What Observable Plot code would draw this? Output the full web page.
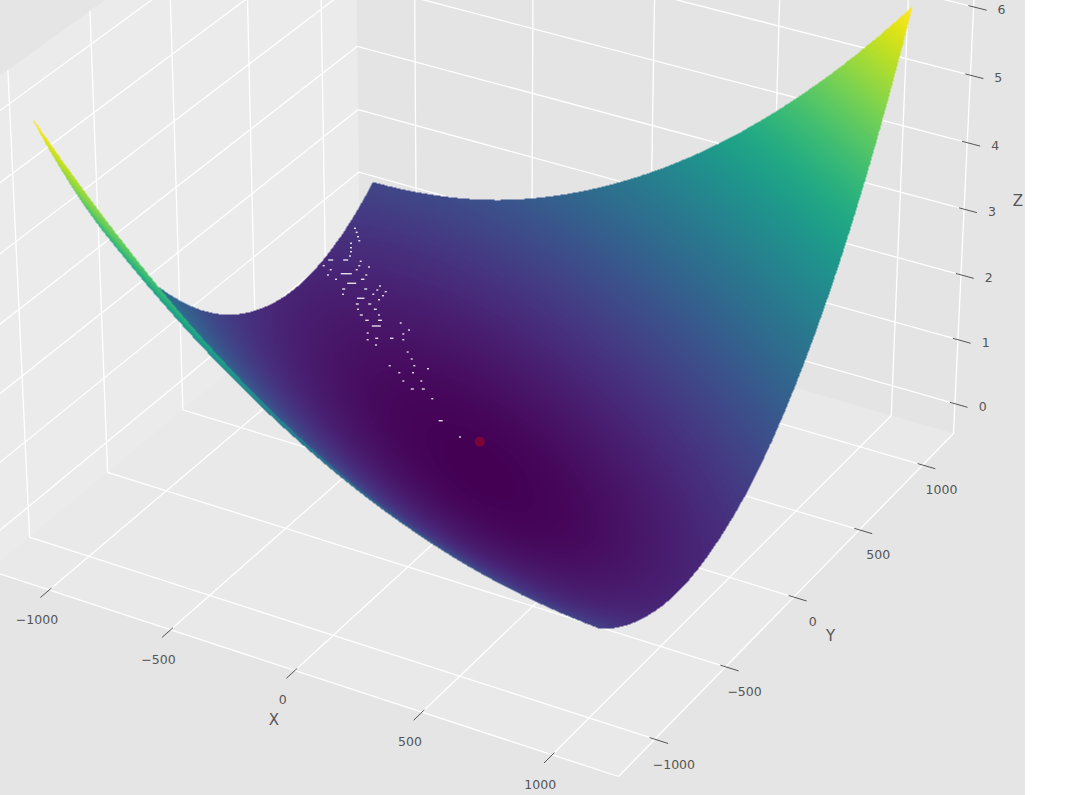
<!DOCTYPE html>
<html>
<head>
<meta charset="utf-8">
<script src="https://cdn.jsdelivr.net/npm/d3@7"></script>
<script src="https://cdn.jsdelivr.net/npm/@observablehq/plot@0.6"></script>
<style>
html,body{margin:0;padding:0;background:#fff;}
svg{display:block;}
</style>
</head>
<body>
<div id="chart"></div>
<script>
const xTicks = [-1000, -500, 0, 500, 1000];
const yTicks = [-1000, -500, 0, 500, 1000];
const zTicks = [0, 1, 2, 3, 4, 5, 6];
const xTickLabels = ["−1000", "−500", "0", "500", "1000"];
const yTickLabels = ["−1000", "−500", "0", "500", "1000"];
// surface heights at these grid nodes
const nodeX = [-1090, -818, -545, -273, 0, 273, 545, 818, 1090];
const nodeY = [-1090, -818, -545, -273, 0, 273, 545, 818, 1090];
const heights = [
  [6.07, 4.94, 3.95, 3.12, 2.44, 1.91, 1.53, 1.29, 1.17],
  [4.40, 3.41, 2.58, 1.90, 1.37, 0.99, 0.77, 0.67, 0.73],
  [3.03, 2.20, 1.52, 0.99, 0.61, 0.38, 0.31, 0.38, 0.59],
  [1.97, 1.29, 0.76, 0.38, 0.15, 0.08, 0.15, 0.38, 0.76],
  [1.21, 0.68, 0.30, 0.08, 0.00, 0.08, 0.30, 0.68, 1.21],
  [0.76, 0.38, 0.15, 0.08, 0.15, 0.38, 0.76, 1.29, 1.97],
  [0.61, 0.38, 0.31, 0.38, 0.61, 0.99, 1.52, 2.20, 3.03],
  [0.79, 0.70, 0.78, 0.99, 1.37, 1.90, 2.58, 3.41, 4.40],
  [1.28, 1.35, 1.56, 1.93, 2.45, 3.12, 3.95, 4.94, 6.10]
];
const marker = {x: 0, y: 0, z: 0.45};
// small gaps in the surface, read in picture pixels: [across, down, length]
const gaps = [[355,228.3,2],[356.7,232.3,2],[358,236.7,2],[359.3,240.7,2],[351,243.3,2],[351,247.7,2],[351,251.7,2],[350,256,2],[330.7,260,5],[345.7,260,5],[360.7,261.3,2],[359.3,265.7,2],[369,267,2],[323.7,265.7,2],[330.7,269.7,2],[356.7,269.7,2],[328,275,2],[346.3,273.7,11],[366.3,275,2],[336,279.3,2],[362.7,279.3,3.5],[351.7,283.3,9],[380,286,2],[343.7,289,3],[365.7,289,3],[377.3,290,2],[385.7,291.7,2],[373.3,294.3,2],[383,295.7,2],[343,294.3,2],[360.7,298.3,7.5],[379,299.7,2],[357.3,304,3],[369.7,304,3],[375.3,309.3,3],[358,309.3,2],[361.3,315,3],[379,315,2],[367,320.3,3.5],[380,320.3,4],[400.7,323,2],[376.3,326,9],[409,330,2],[367.7,333,2],[403.3,334,2],[376.7,338.3,3],[391.7,338.3,3.5],[367.7,339.7,2],[403.3,339.7,2],[376,345,2],[407.7,352,2],[411.7,359,2],[414.3,365.7,2],[389.7,365.7,2],[428,368.7,2],[399.3,372.7,2],[413,372.7,2],[403.3,381,2],[421.3,381,2],[412.3,389,3],[423.3,389,3],[432.3,398.7,2],[440.7,420.7,4],[460,437,2]];

const limit = 1250, floorZ = -0.47, topZ = 6.48;

// camera: world (x, y, z) to picture position
function project(x, y, z) {
  const u = (x + limit) / (2 * limit), v = (y + limit) / (2 * limit), h = z - floorZ;
  const w = 1 - 0.05636 * u + 0.09163 * v - 0.0066 * h;
  return [(594.17 * u + 403.44 * v - 11 - 3.2 * h) / w,
          (162.27 * u - 283.99 * v + 570 - 68.3 * h) / w];
}
const pt = (x, y, z) => { const [px, py] = project(x, y, z); return {px, py}; };
const seg = (a, b) => { const p = project(...a), q = project(...b); return {x1: p[0], y1: p[1], x2: q[0], y2: q[1]}; };

// surface shading: smooth pass over the node table, back to front
const N = 1200;
function smooth(values) {
  const n = values.length;
  const ext = [3*values[0]-3*values[1]+values[2], ...values, 3*values[n-1]-3*values[n-2]+values[n-3]];
  return (f) => {
    const t = f * (n - 1), i = Math.min(n - 2, Math.floor(t)), r = t - i;
    const a = ext[i], b = ext[i+1], c = ext[i+2], d = ext[i+3];
    return 0.5 * (2*b + (c-a)*r + (2*a-5*b+4*c-d)*r*r + (3*b-a-3*c+d)*r*r*r);
  };
}
const rowFns = heights.map(smooth);
const colCount = nodeX.length;
const PX = new Float32Array(N*N), PY = new Float32Array(N*N), PZ = new Float32Array(N*N);
{
  const xMin = nodeX[0], xMax = nodeX[colCount-1], yMin = nodeY[0], yMax = nodeY[nodeY.length-1];
  const colVals = [];
  for (let ix = 0; ix < N; ix++) {
    const fx = ix / (N - 1);
    colVals.push(smooth(rowFns.map(f => f(fx))));
  }
  let k = 0;
  for (let ix = 0; ix < N; ix++) {
    const fx = ix / (N - 1), x = xMin + (xMax - xMin) * fx, col = colVals[ix];
    for (let iy = N - 1; iy >= 0; iy--) {
      const fy = iy / (N - 1), y = yMin + (yMax - yMin) * fy, z = col(fy);
      const [a, b] = project(x, y, z);
      PX[k] = a; PY[k] = b; PZ[k] = z; k++;
    }
  }
}

const leftPane = [pt(-limit,-limit,floorZ), pt(-limit,limit,floorZ), pt(-limit,limit,topZ), pt(-limit,-limit,topZ)];
const backPane = [pt(-limit,limit,floorZ), pt(limit,limit,floorZ), pt(limit,limit,topZ), pt(-limit,limit,topZ)];
const floorPane = [pt(-limit,-limit,floorZ), pt(limit,-limit,floorZ), pt(limit,limit,floorZ), pt(-limit,limit,floorZ)];

const gridLines = [
  ...xTicks.flatMap(x => [seg([x,-limit,floorZ],[x,limit,floorZ]), seg([x,limit,floorZ],[x,limit,topZ])]),
  ...yTicks.flatMap(y => [seg([-limit,y,floorZ],[limit,y,floorZ]), seg([-limit,y,floorZ],[-limit,y,topZ])]),
  ...zTicks.flatMap(z => [seg([-limit,-limit,z],[-limit,limit,z]), seg([-limit,limit,z],[limit,limit,z])]),
  seg([-limit,-limit,floorZ],[limit,-limit,floorZ]),
  seg([limit,-limit,floorZ],[limit,limit,floorZ]),
  seg([limit,limit,floorZ],[limit,limit,topZ])
];
const tick = limit * 2;
const tickLines = [
  ...xTicks.map(x => seg([x,-limit+0.006*tick,floorZ],[x,-limit-0.022*tick,floorZ])),
  ...yTicks.map(y => seg([limit-0.008*tick,y,floorZ],[limit+0.02*tick,y,floorZ])),
  ...zTicks.map(z => seg([limit-0.008*tick,limit,z],[limit+0.02*tick,limit,z]))
];
const center = (a, b) => { const s = seg(a, b); return {px: (s.x1+s.x2)/2, py: (s.y1+s.y2)/2}; };
const xCenter = x => center([x,-limit+0.006*tick,floorZ],[x,-limit-0.022*tick,floorZ]);
const yCenter = y => center([limit-0.008*tick,y,floorZ],[limit+0.02*tick,y,floorZ]);
const zCenter = z => center([limit-0.008*tick,limit,z],[limit+0.02*tick,limit,z]);

const textColor = "#555555";
const font = {fontFamily: "DejaVu Sans", fill: textColor};
const paneMark = (rows, fill) => Plot.line(rows, {x: "px", y: "py", fill, stroke: "none", curve: "linear-closed"});

const chart = Plot.plot({
  width: 1025, height: 795, margin: 0,
  style: {background: "#e5e5e5"},
  x: {domain: [0, 1025], range: [0, 1025], axis: null},
  y: {domain: [0, 795], range: [0, 795], axis: null},
  color: {type: "linear", scheme: "viridis", domain: [0, 6.07]},
  marks: [
    paneMark(backPane, "#e4e4e4"),
    paneMark(leftPane, "#ebebeb"),
    paneMark(floorPane, "#e9e9e9"),
    Plot.link(gridLines, {x1: "x1", y1: "y1", x2: "x2", y2: "y2", stroke: "white", strokeWidth: 1.3}),
    Plot.link(tickLines, {x1: "x1", y1: "y1", x2: "x2", y2: "y2", stroke: textColor, strokeWidth: 1}),
    Plot.raster({length: N*N}, {x: PX, y: PY, fill: PZ, pixelSize: 1}),
    Plot.rect(gaps, {x1: d => d[0]-d[2]/2, x2: d => d[0]+d[2]/2, y1: d => d[1]-0.7, y2: d => d[1]+0.7, fill: "white", fillOpacity: 0.85}),
    Plot.dot([pt(marker.x, marker.y, marker.z)], {x: "px", y: "py", r: 5, fill: "#b6051a", fillOpacity: 0.5}),
    Plot.text(xTicks.map((x, i) => ({...xCenter(x), label: xTickLabels[i]})), {x: "px", y: "py", text: "label", dx: -9, dy: 27, fontSize: 12.5, ...font}),
    Plot.text(yTicks.map((y, i) => ({...yCenter(y), label: yTickLabels[i]})), {x: "px", y: "py", text: "label", dx: 15, dy: 24, fontSize: 12.5, ...font}),
    Plot.text(zTicks.map(z => ({...zCenter(z), label: String(z)})), {x: "px", y: "py", text: "label", dx: 24, dy: 2, fontSize: 12.5, ...font}),
    Plot.text([{...xCenter(0), label: "X"}], {x: "px", y: "py", text: "label", dx: -18, dy: 47, fontSize: 15, ...font}),
    Plot.text([{...yCenter(0), label: "Y"}], {x: "px", y: "py", text: "label", dx: 33, dy: 38, fontSize: 15, ...font}),
    Plot.text([{...zCenter(3), label: "Z"}], {x: "px", y: "py", text: "label", dx: 50, dy: -9, fontSize: 15, ...font})
  ]
});
document.getElementById("chart").appendChild(chart);
</script>
</body>
</html>
